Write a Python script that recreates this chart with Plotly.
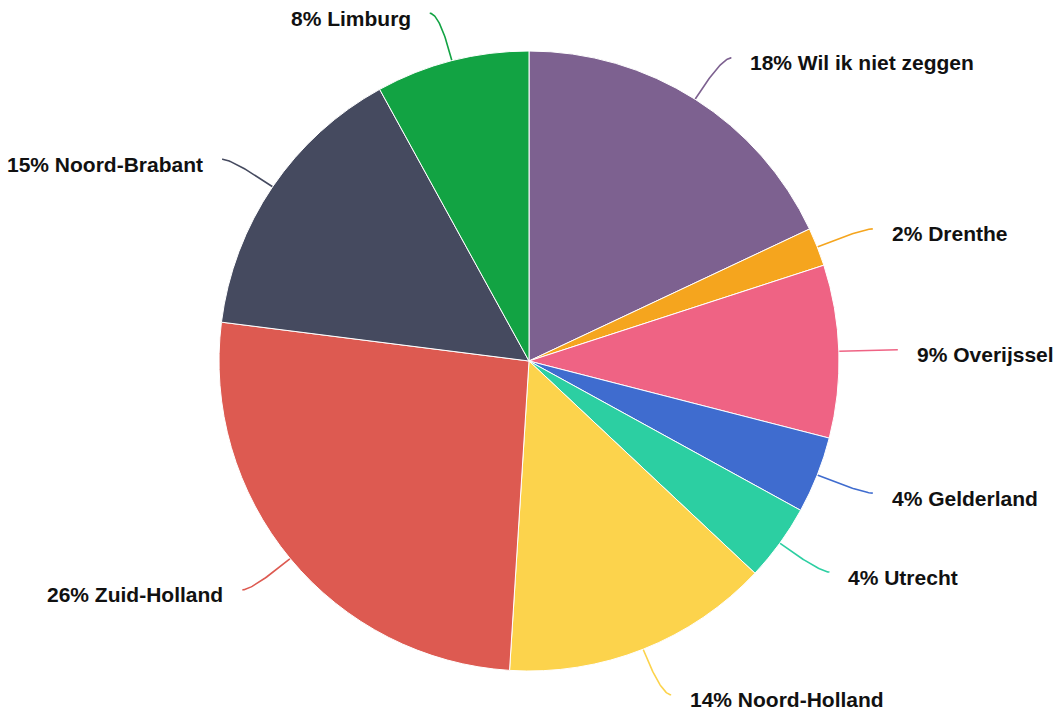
import numpy as np
import plotly.graph_objects as go

# Provinces and their share of respondents (%)
labels = ["Wil ik niet zeggen", "Drenthe", "Overijssel", "Gelderland", "Utrecht",
          "Noord-Holland", "Zuid-Holland", "Noord-Brabant", "Limburg"]
values = [18, 2, 9, 4, 4, 14, 26, 15, 8]
colors = ["#7d6190", "#f5a51e", "#ef6384", "#3f6ccf", "#2ccfa2",
          "#fcd34c", "#dd5a51", "#454a5f", "#12a343"]

W, H = 1060, 711
cx, cy, R = 529, 361, 310      # pie centre and radius in pixels
len1, len2, gap = 49, 10, 17  # leader line: radial part, horizontal part, text gap

fig = go.Figure()

fig.add_trace(go.Pie(
    labels=labels, values=values, sort=False, direction="clockwise", rotation=0,
    marker=dict(colors=colors, line=dict(color="white", width=1)),
    textinfo="none", hoverinfo="label+percent", showlegend=False,
    domain=dict(x=[(cx - R) / W, (cx + R) / W], y=[(H - cy - R) / H, (H - cy + R) / H]),
))

# Leader lines and labels, placed from each slice's mid angle
total = sum(values)
cum = np.cumsum([0] + values[:-1])
annotations = []
for lab, val, c0, col in zip(labels, values, cum, colors):
    mid = 2 * np.pi * (c0 + val / 2) / total
    dx, dy = np.sin(mid), -np.cos(mid)
    ax_, ay_ = cx + R * dx, cy + R * dy
    bx, by = cx + (R + len1) * dx, cy + (R + len1) * dy
    side = 1 if dx >= 0 else -1
    ex, ey = bx + side * len2, by
    t = np.linspace(0, 1, 40)
    # smooth curve: quadratic bezier through the bend point
    qx = (1 - t) ** 2 * ax_ + 2 * (1 - t) * t * bx + t ** 2 * ex
    qy = (1 - t) ** 2 * ay_ + 2 * (1 - t) * t * by + t ** 2 * ey
    fig.add_trace(go.Scatter(x=qx, y=qy, mode="lines", line=dict(color=col, width=1.6),
                             hoverinfo="skip", showlegend=False))
    annotations.append(dict(
        x=ex + side * gap, y=ey, xref="x", yref="y", showarrow=False,
        text=f"<b>{val}% {lab}</b>", xanchor="left" if side > 0 else "right",
        yanchor="middle", yshift=-5,
        font=dict(family="Liberation Sans, Arial, sans-serif", size=21, color="#111111"),
    ))

fig.update_layout(
    width=W, height=H, margin=dict(l=0, r=0, t=0, b=0),
    paper_bgcolor="white", plot_bgcolor="rgba(0,0,0,0)",
    xaxis=dict(range=[0, W], visible=False, fixedrange=True, domain=[0, 1]),
    yaxis=dict(range=[H, 0], visible=False, fixedrange=True, domain=[0, 1]),
    annotations=annotations,
    font=dict(family="Liberation Sans, Arial, sans-serif"),
)

fig.write_html("out.html")
